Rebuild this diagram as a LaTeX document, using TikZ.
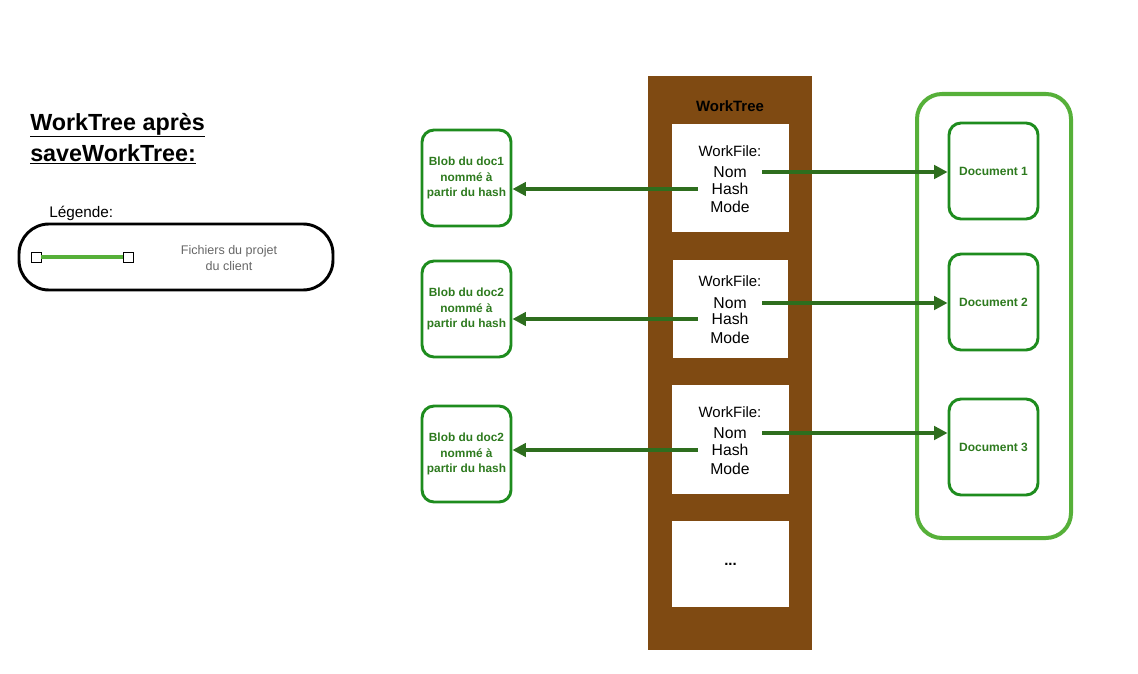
\documentclass[tikz,border=0pt]{standalone}
\usepackage{fontspec}
\setmainfont{Liberation Sans}
\usetikzlibrary{arrows.meta}

\definecolor{treebrown}{HTML}{7F4A12}
\definecolor{boxgreen}{HTML}{1E8C1E}
\definecolor{labelgreen}{HTML}{2D7A1E}
\definecolor{arrowgreen}{HTML}{2E6E1E}
\definecolor{clientgreen}{HTML}{56B039}

\tikzset{
  blobbox/.style={draw=boxgreen, line width=2.2pt, rounded corners=9pt,
    minimum width=66.75pt, minimum height=72pt, text=labelgreen, align=center,
    font=\fontsize{8.9}{11.6}\selectfont\bfseries},
  filebox/.style={fill=white, inner sep=0pt},
  headtext/.style={inner sep=0pt, minimum width=48pt, font=\fontsize{11.2}{13}\selectfont},
  fieldtext/.style={inner sep=0pt, minimum width=48pt, font=\fontsize{11.8}{13}\selectfont},
  link/.style={-{Triangle[length=10pt, width=10pt]}, arrowgreen, line width=2.4pt}
}

\begin{document}
\begin{tikzpicture}[x=0.75pt, y=-0.75pt]
    \useasboundingbox (0,0) rectangle (1138,674);

    % Title and legend on the left
    \node[anchor=base west, inner sep=0pt, font=\fontsize{17.5}{20}\selectfont\bfseries] (title1) at (30,130) {\underline{WorkTree après}};
    \node[anchor=base west, inner sep=0pt, font=\fontsize{17.5}{20}\selectfont\bfseries] (title2) at (30,161) {\underline{saveWorkTree:}};
    \node[anchor=base west, inner sep=0pt, font=\fontsize{11.5}{13}\selectfont] (legendtitle) at (49,217) {Légende:};
    \node[draw, line width=2.2pt, rounded corners=22.5pt, minimum width=235.5pt, minimum height=49.5pt] (legendbox) at (176,257) {};
    \node[draw, fill=white, line width=0.6pt, minimum size=7.5pt, inner sep=0pt] (lstart) at (36,257) {};
    \node[draw, fill=white, line width=0.6pt, minimum size=7.5pt, inner sep=0pt] (lend) at (128,257) {};
    \draw[clientgreen, line width=3pt] (lstart) -- (lend);
    \node[align=center, text=black!60, font=\fontsize{9.4}{12}\selectfont] (legendtext) at (229,258) {Fichiers du projet\\du client};

    % The WorkTree column with its files
    \node[fill=treebrown, minimum width=123pt, minimum height=430.5pt] (tree) at (730,363) {};
    \node[font=\fontsize{11.2}{13}\selectfont\bfseries] (treelabel) at (730,106) {WorkTree};
    \node[filebox, minimum width=87.75pt, minimum height=81pt] (file1) at (730.5,178) {};
    \node[filebox, minimum width=86.25pt, minimum height=73.5pt] (file2) at (730.5,309) {};
    \node[filebox, minimum width=87.75pt, minimum height=81.75pt] (file3) at (730.5,439.5) {};
    \node[filebox, minimum width=87.75pt, minimum height=64.5pt, font=\fontsize{11.2}{13}\selectfont\bfseries] (file4) at (730.5,564) {...};

    % Fields of each WorkFile
    \node[headtext] (head1) at (730,151) {WorkFile:};
    \node[fieldtext] (nom1) at (730,172) {Nom};
    \node[fieldtext] (hash1) at (730,189) {Hash};
    \node[fieldtext] (mode1) at (730,207) {Mode};
    \node[headtext] (head2) at (730,281) {WorkFile:};
    \node[fieldtext] (nom2) at (730,303) {Nom};
    \node[fieldtext] (hash2) at (730,319) {Hash};
    \node[fieldtext] (mode2) at (730,338) {Mode};
    \node[headtext] (head3) at (730,412) {WorkFile:};
    \node[fieldtext] (nom3) at (730,433) {Nom};
    \node[fieldtext] (hash3) at (730,450) {Hash};
    \node[fieldtext] (mode3) at (730,469) {Mode};

    % Blobs on the left
    \node[blobbox] (blob1) at (466.5,178) {Blob du doc1\\nommé à\\partir du hash};
    \node[blobbox] (blob2) at (466.5,309) {Blob du doc2\\nommé à\\partir du hash};
    \node[blobbox] (blob3) at (466.5,454) {Blob du doc2\\nommé à\\partir du hash};

    % Client project files on the right
    \node[draw=clientgreen, line width=3pt, rounded corners=18.75pt, minimum width=115.5pt, minimum height=333pt] (client) at (994,316) {};
    \node[blobbox, font=\fontsize{9}{11}\selectfont\bfseries] (doc1) at (993.5,171) {Document 1};
    \node[blobbox, font=\fontsize{9}{11}\selectfont\bfseries] (doc2) at (993.5,302) {Document 2};
    \node[blobbox, font=\fontsize{9}{11}\selectfont\bfseries] (doc3) at (993.5,447) {Document 3};

    % Arrows from the hashes to the blobs
    \draw[link] (hash1.west) -- (hash1.west -| blob1.east);
    \draw[link] (hash2.west) -- (hash2.west -| blob2.east);
    \draw[link] (hash3.west) -- (hash3.west -| blob3.east);

    % Arrows from the names to the documents
    \draw[link] (nom1.east) -- (nom1.east -| doc1.west);
    \draw[link] (nom2.east) -- (nom2.east -| doc2.west);
    \draw[link] (nom3.east) -- (nom3.east -| doc3.west);
\end{tikzpicture}
\end{document}
